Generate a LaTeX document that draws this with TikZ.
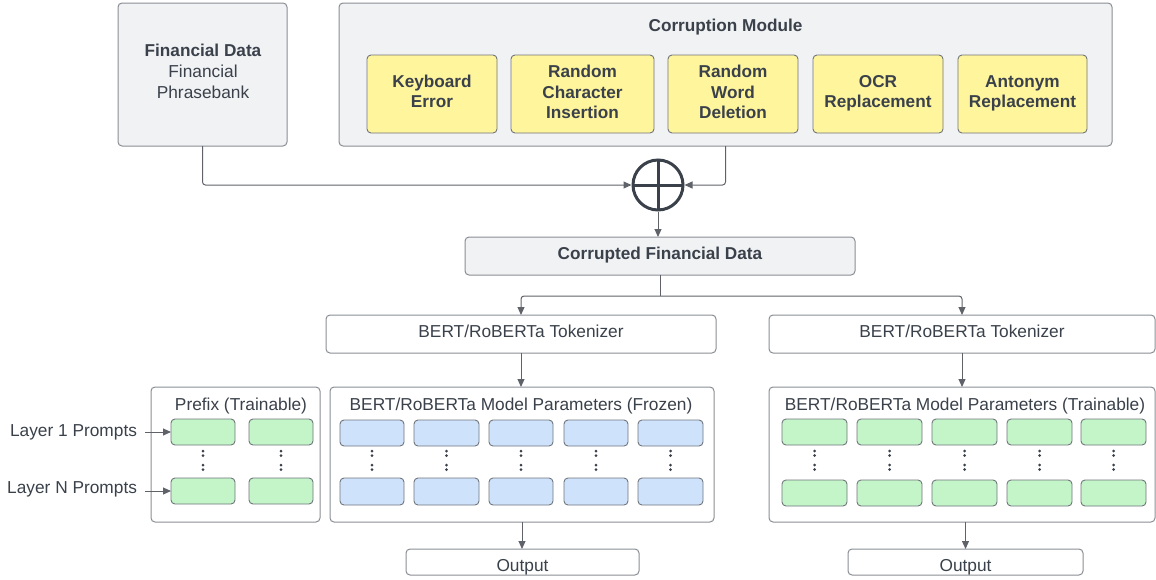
\documentclass[tikz,border=0pt]{standalone}
\usepackage{fontspec}
\setmainfont{Liberation Sans}
\usetikzlibrary{arrows.meta,calc}
\definecolor{txt}{HTML}{3A414A}
\definecolor{edgec}{HTML}{8A8E94}
\definecolor{cellc}{HTML}{70757C}
\definecolor{gfill}{HTML}{F1F2F4}
\definecolor{yfill}{HTML}{FFF59D}
\definecolor{grn}{HTML}{C3F5C9}
\definecolor{blu}{HTML}{CFE2FB}
\definecolor{arr}{HTML}{5F6369}
\newcommand\rbox[6]{\node[#1,minimum width={#4-#2},minimum height={#5-#3}] (#6) at ({(#2+#4)/2},{(#3+#5)/2})}
\newcommand\vdotsat[1]{\foreach \yy in {451,455.5,465,469.5}{\fill[txt] ({#1},\yy) circle (1.5);}}
\begin{document}
\begin{tikzpicture}[x=1pt,y=-1pt,
  every node/.style={text=txt, font=\fontsize{17.3}{20.5}\selectfont, inner sep=0pt, outer sep=0pt},
  lbl/.style={anchor=base},
  blbl/.style={anchor=base, font=\fontsize{17.2}{20.5}\selectfont\bfseries},
  bigbox/.style={draw=edgec, line width=1pt, rounded corners=4pt},
  graybox/.style={bigbox, fill=gfill},
  whitebox/.style={bigbox, fill=white},
  ybox/.style={draw=cellc, line width=0.9pt, rounded corners=4pt, fill=yfill},
  gcell/.style={draw=cellc, line width=0.9pt, rounded corners=4pt, fill=grn},
  bcell/.style={draw=cellc, line width=0.9pt, rounded corners=4pt, fill=blu},
  conn/.style={draw=arr, line width=1pt, rounded corners=3pt, -{Triangle[length=8pt,width=7pt]}},
  plainconn/.style={draw=arr, line width=1pt, rounded corners=3pt}
]
\useasboundingbox (0,0) rectangle (1156,579);

% top row
\rbox{graybox}{118}{3}{287}{146}{fin} {};
\node[blbl] (fin1) at (203,56.9) {Financial Data};
\node[lbl] (fin2) at (203,77.5) {Financial};
\node[lbl] (fin3) at (203,98) {Phrasebank};

\rbox{graybox}{339}{3}{1112}{146}{corr} {};
\node[blbl] (corrt) at (725.5,31) {Corruption Module};

\rbox{ybox}{367}{55}{497}{133}{kb} {};
\node[blbl] at (432,87) {Keyboard};
\node[blbl] at (432,107.5) {Error};
\rbox{ybox}{511}{55}{654}{133}{rci} {};
\node[blbl] at (582.5,77.5) {Random};
\node[blbl] at (582.5,98) {Character};
\node[blbl] at (582.5,118.5) {Insertion};
\rbox{ybox}{668}{55}{798}{133}{rwd} {};
\node[blbl] at (733,77.5) {Random};
\node[blbl] at (733,98) {Word};
\node[blbl] at (733,118.5) {Deletion};
\rbox{ybox}{813}{55}{943}{133}{ocr} {};
\node[blbl] at (878,87) {OCR};
\node[blbl] at (878,107.5) {Replacement};
\rbox{ybox}{958}{55}{1087}{133}{ant} {};
\node[blbl] at (1022.5,87) {Antonym};
\node[blbl] at (1022.5,107.5) {Replacement};

% sum
\node[circle, draw=txt, line width=3pt, minimum size=50pt, outer sep=1.5pt] (sum) at (658,185) {};
\draw[txt, line width=3pt] (658,160) -- (658,210) (633,185) -- (683,185);

\draw[conn] (fin.south) |- (sum.west);
\draw[conn] (corr.south) |- (sum.east);

\rbox{graybox}{465}{237}{855}{275}{cfd} {};
\node[blbl] (cfdt) at (660,259) {Corrupted Financial Data};
\draw[conn] (sum.south) -- (sum.south |- cfd.north);

% tokenizers
\rbox{whitebox}{326}{315}{716}{353}{tokL} {};
\node[lbl] (tokLt) at (521,337.3) {BERT/RoBERTa Tokenizer};
\rbox{whitebox}{769}{315}{1155}{353}{tokR} {};
\node[lbl] (tokRt) at (962,337.3) {BERT/RoBERTa Tokenizer};
\coordinate (split) at (cfd.south |- 0,296);
\draw[plainconn] (cfd.south) -- (split);
\draw[conn] (split) -| (tokL.north);
\draw[conn] (split) -| (tokR.north);

% model boxes
\rbox{whitebox}{151}{387}{320}{522}{prefix} {};
\node[lbl] (prefixt) at (241,410) {Prefix (Trainable)};
\rbox{whitebox}{330}{387}{714}{522}{modL} {};
\node[lbl] (modLt) at (521,410) {BERT/RoBERTa Model Parameters (Frozen)};
\rbox{whitebox}{769}{387}{1155}{522}{modR} {};
\node[lbl] (modRt) at (965,410) {BERT/RoBERTa Model Parameters (Trainable)};

\draw[conn] (tokL.south) -- (tokL.south |- modL.north);
\draw[conn] (tokR.south) -- (tokR.south |- modR.north);

% prefix cells
\rbox{gcell}{171}{419}{235}{445}{p11} {};
\rbox{gcell}{249}{419}{313}{445}{p12} {};
\rbox{gcell}{171}{478}{235}{504}{pN1} {};
\rbox{gcell}{249}{478}{313}{504}{pN2} {};
\vdotsat{203}\vdotsat{281}

% frozen cells
\foreach \a/\b [count=\i] in {340/404,414/479,489/553,564/628,638/703}{
  \rbox{bcell}{\a}{420}{\b}{446}{b1\i} {};
  \rbox{bcell}{\a}{478}{\b}{505}{bN\i} {};
  \vdotsat{(\a+\b)/2}
}
% trainable cells
\foreach \a/\b [count=\i] in {782/847,857/922,932/997,1007/1072,1081/1146}{
  \rbox{gcell}{\a}{419}{\b}{445}{g1\i} {};
  \rbox{gcell}{\a}{480}{\b}{506}{gN\i} {};
  \vdotsat{(\a+\b)/2}
}

% layer labels
\node[anchor=base east] (l1) at (137,436.9) {Layer 1 Prompts};
\node[anchor=base east] (lN) at (137,493.9) {Layer N Prompts};
\draw[conn] (l1.east |- p11.west) ++(8,0) -- (p11.west);
\draw[conn] (lN.east |- pN1.west) ++(8,0) -- (pN1.west);

% outputs
\rbox{whitebox}{406}{549}{639}{575}{outL} {};
\node[lbl] (outLt) at (522.5,571) {Output};
\rbox{whitebox}{848}{549}{1083}{575}{outR} {};
\node[lbl] (outRt) at (965.5,571) {Output};
\draw[conn] (modL.south) -- (modL.south |- outL.north);
\draw[conn] (outR.north |- modR.south) -- (outR.north);
\end{tikzpicture}
\end{document}
